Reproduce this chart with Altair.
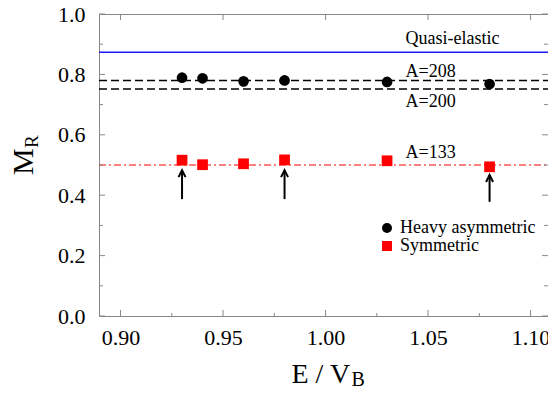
import altair as alt
import pandas as pd

# ---------------- data ----------------
energy = [0.93, 0.94, 0.96, 0.98, 1.03, 1.08]
heavy_mr = [0.789, 0.787, 0.777, 0.780, 0.775, 0.768]
sym_mr = [0.516, 0.501, 0.504, 0.517, 0.514, 0.494]
series_names = ["Heavy asymmetric", "Symmetric"]
series_colors = ["#000000", "#ff0000"]
series_shapes = ["circle", "square"]

ref_names = ["Quasi-elastic", "A=208", "A=200", "A=133"]
ref_values = [0.873, 0.780, 0.752, 0.500]

label_texts = ["Quasi-elastic", "A=208", "A=200", "A=133"]
label_x = [1.039, 1.039, 1.039, 1.039]
label_y = [0.901, 0.790, 0.691, 0.524]

arrow_x = [0.93, 0.98, 1.08]
arrow_base = [0.387, 0.387, 0.378]
arrow_tip = [0.483, 0.483, 0.467]

x_major = [0.90, 0.95, 1.00, 1.05, 1.10]
x_minor = [0.925, 0.975, 1.025, 1.075]
y_major = [0.0, 0.2, 0.4, 0.6, 0.8, 1.0]
y_minor = [0.1, 0.3, 0.5, 0.7, 0.9]
x_domain = [0.8895, 1.1085]
y_domain = [0.0, 1.0]

y_title = ["M", "R"]
x_title = ["E / V", "B"]

W, H = 449, 302
FONT = "Liberation Serif"
GRAY = "#888888"

# ---------------- tables ----------------
pts = pd.DataFrame({
    "x": energy + energy,
    "mr": heavy_mr + sym_mr,
    "series": [series_names[0]] * len(energy) + [series_names[1]] * len(energy),
})
refs = pd.DataFrame({"name": ref_names, "v": ref_values})
labels = pd.DataFrame({"t": label_texts, "x": label_x, "y": label_y})
arrows = pd.DataFrame({"x": arrow_x, "base": arrow_base, "tip": arrow_tip})
xmaj = pd.DataFrame({"v": x_major})
xmin = pd.DataFrame({"v": x_minor})
ymaj = pd.DataFrame({"v": y_major})
ymin = pd.DataFrame({"v": y_minor})

xs = alt.Scale(domain=x_domain, nice=False, zero=False)
ys = alt.Scale(domain=y_domain, nice=False, zero=False)

x_axis = alt.Axis(values=x_major, format=".2f", ticks=False, domain=False, grid=False,
                  labelFont=FONT, labelFontSize=22, labelColor="black",
                  labelPadding=11, title=None)
y_axis = alt.Axis(values=y_major, format=".1f", ticks=False, domain=False, grid=False,
                  labelFont=FONT, labelFontSize=22, labelColor="black",
                  labelPadding=14, title=None)


def X(field):
    return alt.X(field, type="quantitative", scale=xs, axis=x_axis)


def Y(field):
    return alt.Y(field, type="quantitative", scale=ys, axis=y_axis)


# reference lines
def ref_line(name, color, width, dash=None):
    kw = dict(color=color, strokeWidth=width)
    if dash:
        kw["strokeDash"] = dash
    return (alt.Chart(refs).transform_filter(alt.datum.name == name)
            .mark_rule(**kw)
            .encode(y=Y("v"), x=alt.value(0), x2=alt.value(W)))


blue = ref_line("Quasi-elastic", "#1a1aff", 1.5)
d208 = ref_line("A=208", "black", 1.5, [8, 4])
d200 = ref_line("A=200", "black", 1.5, [8, 4])
red = ref_line("A=133", "#ff0000", 1.2, [7, 3, 2, 3])

# arrows
shaft = alt.Chart(arrows).mark_rule(color="black", strokeWidth=2).encode(
    x=X("x"), y=Y("base"), y2="tip")
head = alt.Chart(arrows).mark_point(shape="M-1,2L0,0L1,2", filled=False, stroke="black",
                                    strokeWidth=2, size=49, opacity=1).encode(
    x=X("x"), y=Y("tip"))

# data points
legend = alt.Legend(orient="none", legendX=279, legendY=205, title=None,
                    labelFont=FONT, labelFontSize=18, labelColor="black",
                    symbolSize=100, padding=0, rowPadding=-2, labelOffset=4,
                    symbolStrokeWidth=0, symbolOpacity=1)
points = alt.Chart(pts).mark_point(filled=True, size=115, opacity=1).encode(
    x=X("x"), y=Y("mr"),
    color=alt.Color("series:N", scale=alt.Scale(domain=series_names, range=series_colors),
                    legend=legend),
    shape=alt.Shape("series:N", scale=alt.Scale(domain=series_names, range=series_shapes),
                    legend=legend),
)

# annotations
texts = alt.Chart(labels).mark_text(align="left", baseline="alphabetic", font=FONT,
                                    fontSize=18, color="black").encode(
    x=X("x"), y=Y("y"), text="t:N")

# inward ticks
tick_kw = dict(color=GRAY, strokeWidth=1)
t_left_maj = alt.Chart(ymaj).mark_rule(**tick_kw).encode(y=Y("v"), x=alt.value(0), x2=alt.value(6))
t_left_min = alt.Chart(ymin).mark_rule(**tick_kw).encode(y=Y("v"), x=alt.value(0), x2=alt.value(4))
t_right_maj = alt.Chart(ymaj).mark_rule(**tick_kw).encode(y=Y("v"), x=alt.value(W - 6), x2=alt.value(W))
t_right_min = alt.Chart(ymin).mark_rule(**tick_kw).encode(y=Y("v"), x=alt.value(W - 4), x2=alt.value(W))
t_bot_maj = alt.Chart(xmaj).mark_rule(**tick_kw).encode(x=X("v"), y=alt.value(H - 6), y2=alt.value(H))
t_bot_min = alt.Chart(xmin).mark_rule(**tick_kw).encode(x=X("v"), y=alt.value(H - 3), y2=alt.value(H))
t_top_maj = alt.Chart(xmaj).mark_rule(**tick_kw).encode(x=X("v"), y=alt.value(0), y2=alt.value(6))

# axis titles with subscripts
ytm = alt.Chart(pd.DataFrame({"t": [y_title[0]]})).mark_text(
    angle=270, align="left", baseline="alphabetic", font=FONT, fontSize=30, color="black"
).encode(text="t:N", x=alt.value(-66), y=alt.value(161))
yts = alt.Chart(pd.DataFrame({"t": [y_title[1]]})).mark_text(
    angle=270, align="left", baseline="alphabetic", font=FONT, fontSize=19, color="black"
).encode(text="t:N", x=alt.value(-61), y=alt.value(134))
xtm = alt.Chart(pd.DataFrame({"t": [x_title[0]]})).mark_text(
    align="left", baseline="alphabetic", font=FONT, fontSize=28, color="black"
).encode(text="t:N", x=alt.value(192.5), y=alt.value(369))
xts = alt.Chart(pd.DataFrame({"t": [x_title[1]]})).mark_text(
    align="left", baseline="alphabetic", font=FONT, fontSize=20, color="black"
).encode(text="t:N", x=alt.value(252.5), y=alt.value(372))

chart = alt.layer(
    blue, d208, d200, red, shaft, head, points, texts,
    t_left_maj, t_left_min, t_right_maj, t_right_min, t_bot_maj, t_bot_min, t_top_maj,
    ytm, yts, xtm, xts,
).properties(
    width=W, height=H,
    autosize=alt.AutoSizeParams(type="none"),
    padding={"left": 91, "top": 6, "right": 0, "bottom": 70},
).configure(font=FONT).configure_axis(labelFont=FONT).configure_legend(
    labelFont=FONT
).configure_view(stroke=GRAY, strokeWidth=1)

chart.save("out.html", embed_options={"renderer": "svg", "actions": False})
